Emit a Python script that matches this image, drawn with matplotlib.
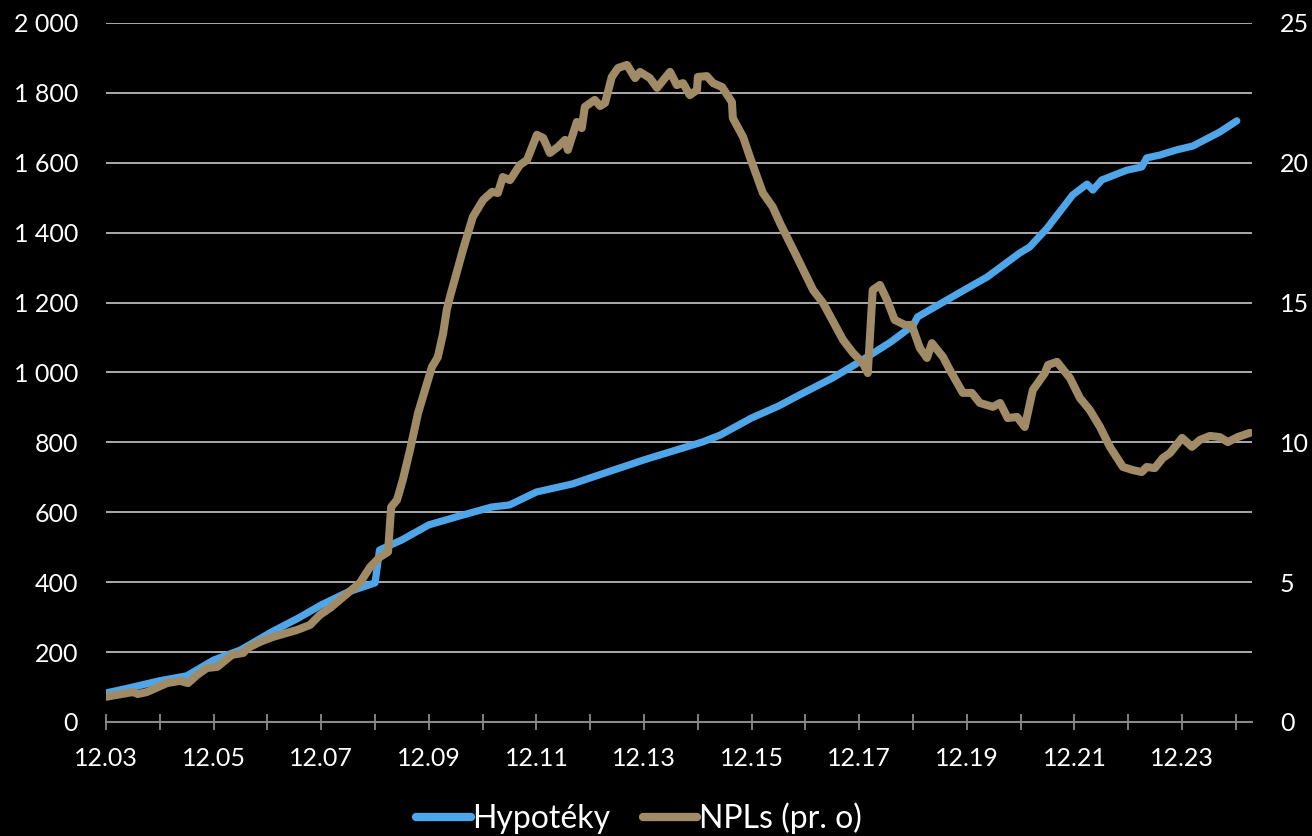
import matplotlib
matplotlib.use("Agg")
import matplotlib.pyplot as plt
from matplotlib.ticker import FuncFormatter, MultipleLocator

# ---- data (x = months since Dec 2003) ----
hyp_month = [0, 5, 12, 18, 24, 30, 37, 43, 48, 54, 60, 61, 66, 72, 79, 86, 90, 96,
             104, 110, 120, 133, 137, 144, 150, 155, 162, 168, 175, 180, 181, 187.5,
             191, 196.5, 203.8, 206, 209.9, 215.6, 218.8, 220.1, 222.1, 227.7, 231,
             232.1, 235, 238.8, 242.4, 248.4, 252.2]
hyp_value = [83, 97, 118, 132, 177, 206, 258, 298, 335, 372, 398, 492, 521, 564, 590,
             615, 621, 658, 681, 707, 750, 801, 821, 870, 904, 938, 984, 1030, 1087,
             1135, 1159, 1207, 1233, 1273, 1342, 1359, 1413, 1508, 1539, 1522, 1551,
             1579, 1588, 1614, 1622, 1637, 1648, 1688, 1720]

npl_month = [0, 6, 7.1, 9.1, 13.6, 16.5, 18.3, 20.3, 22.5, 24.8, 28.1, 30.6, 31.7, 34.3,
             37.2, 42.6, 45.5, 47.7, 50, 56.6, 58.9, 61.1, 62.9, 63.6, 64.9, 66.2, 67.8,
             69.6, 72.7, 74, 75.2, 76, 76.7, 79.6, 81.8, 84.1, 86.1, 87.4, 88.5, 90.1,
             92.3, 93.9, 96.1, 97.5, 99, 100.8, 102.4, 103, 105, 106.1, 106.8, 109,
             110.2, 111.3, 112.8, 114.2, 116.2, 118, 119.1, 121.3, 122.9, 125.8, 127.3,
             128.7, 130.2, 131.8, 132, 134, 135.4, 137.4, 139.6, 139.8, 142.1, 143.6,
             146.5, 148.7, 150.3, 154.1, 157.7, 159.9, 164.4, 166.6, 168.8, 169.9, 171,
             172.6, 174.2, 175.9, 178.2, 179.7, 181.5, 183.1, 184.2, 186.7, 188.2,
             191.1, 193.1, 194.9, 197.8, 199.4, 201.1, 203.2, 204.9, 206.7, 209.4,
             210.1, 212.1, 215, 217.2, 219.4, 221.7, 223.9, 226.8, 229, 231, 232.1,
             233.9, 235.7, 237.3, 240, 242.2, 244, 246.2, 248.4, 250.2, 252.4, 255.1]
npl_value = [0.9, 1.07, 1.0, 1.07, 1.39, 1.47, 1.39, 1.68, 1.93, 1.97, 2.40, 2.47, 2.65,
             2.86, 3.04, 3.29, 3.47, 3.83, 4.08, 4.97, 5.54, 5.90, 6.08, 7.69, 7.94,
             8.66, 9.73, 11.05, 12.70, 13.05, 13.91, 14.74, 15.2, 16.88, 18.06, 18.67,
             18.96, 18.92, 19.49, 19.38, 19.92, 20.1, 21.0, 20.89, 20.35, 20.57, 20.82,
             20.46, 21.46, 21.24, 22.0, 22.25, 22.03, 22.14, 23.07, 23.39, 23.5, 23.03,
             23.25, 23.03, 22.68, 23.25, 22.78, 22.85, 22.42, 22.6, 23.07, 23.1, 22.85,
             22.71, 22.17, 21.6, 20.92, 20.21, 18.92, 18.42, 17.85, 16.63, 15.45, 14.99,
             13.66, 13.2, 12.84, 12.48, 15.45, 15.63, 15.09, 14.38, 14.2, 14.2, 13.38,
             13.02, 13.55, 13.05, 12.59, 11.77, 11.77, 11.41, 11.27, 11.41, 10.87,
             10.91, 10.55, 11.87, 12.48, 12.77, 12.88, 12.3, 11.59, 11.16, 10.55, 9.84,
             9.12, 9.01, 8.94, 9.12, 9.08, 9.44, 9.62, 10.16, 9.84, 10.09, 10.23, 10.19,
             10.01, 10.19, 10.34]

x_tick_labels = ["12.03", "12.05", "12.07", "12.09", "12.11", "12.13",
                 "12.15", "12.17", "12.19", "12.21", "12.23"]
left_ticks = [0, 200, 400, 600, 800, 1000, 1200, 1400, 1600, 1800, 2000]
right_ticks = [0, 5, 10, 15, 20, 25]

series_names = ["Hypotéky", "NPLs (pr. o)"]

# ---- style ----
BLUE = "#4ea6e8"
BROWN = "#a08b66"
GRID = "#b8b8b8"
AXIS = "#8a8a8a"
FONT = ["Lato", "DejaVu Sans"]
plt.rcParams["font.family"] = FONT

fig = plt.figure(figsize=(13.12, 8.36), dpi=100, facecolor="black")
ax = fig.add_axes([0.0808, 0.1364, 0.8735, 0.8361], facecolor="black")
ax2 = ax.twinx()

l1, = ax.plot(hyp_month, hyp_value, color=BLUE, lw=5.2, solid_capstyle="round",
              solid_joinstyle="round", label=series_names[0], zorder=3)
l2, = ax2.plot(npl_month, npl_value, color=BROWN, lw=5.8, solid_capstyle="round",
               solid_joinstyle="round", label=series_names[1], zorder=3)

ax.set_xlim(0, 255.6)
ax.set_ylim(0, 2000)
ax2.set_ylim(0, 25)

ax.set_yticks(left_ticks)
ax.yaxis.set_major_formatter(FuncFormatter(lambda v, p: f"{int(v):,}".replace(",", " ")))
ax2.set_yticks(right_ticks)

ax.set_xticks([24 * i for i in range(len(x_tick_labels))])
ax.set_xticklabels(x_tick_labels)
ax.xaxis.set_minor_locator(MultipleLocator(12))

for s in ["top", "right", "left"]:
    ax.spines[s].set_visible(False)
for s in ax2.spines.values():
    s.set_visible(False)
ax.spines["bottom"].set_color(AXIS)
ax.spines["bottom"].set_linewidth(1.5)

ax.grid(axis="y", color=GRID, lw=1.3)
ax.set_axisbelow(True)
for gl in ax.yaxis.get_gridlines()[:1]:
    gl.set_visible(False)

ax.tick_params(axis="x", which="both", direction="inout", length=12, width=1.3,
               color=AXIS, labelcolor="white", labelsize=18, pad=12)
ax.tick_params(axis="y", length=0, labelcolor="white", labelsize=18, pad=20)
ax2.tick_params(axis="y", length=0, labelcolor="white", labelsize=18, pad=20)

leg = fig.legend(handles=[l1, l2], loc="center", bbox_to_anchor=(0.487, 0.0215),
                 ncol=2, frameon=False, fontsize=23, handlelength=1.72,
                 handletextpad=0.05, columnspacing=1.0, labelcolor="white",
                 borderpad=0.0)
for h in leg.get_lines():
    h.set_linewidth(6)

fig.savefig("out.png", dpi=100, facecolor="black")
